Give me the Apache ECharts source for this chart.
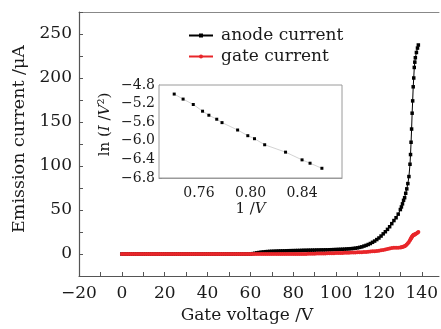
<!DOCTYPE html>
<html><head><meta charset="utf-8">
<script src="https://cdn.jsdelivr.net/npm/echarts@6/dist/echarts.min.js"></script>
<style>html,body{margin:0;padding:0;background:#fff}#c{width:441px;height:329px}</style>
</head><body><div id="c"></div>
<script>
// Main chart: gate voltage (V) vs emission current (uA)
const voltage = [
  0,1,2,3,4,5,6,7,8,9,
  10,11,12,13,14,15,16,17,18,19,
  20,21,22,23,24,25,26,27,28,29,
  30,31,32,33,34,35,36,37,38,39,
  40,41,42,43,44,45,46,47,48,49,
  50,51,52,53,54,55,56,57,58,59,
  60,61,62,63,64,65,66,67,68,69,
  70,71,72,73,74,75,76,77,78,79,
  80,81,82,83,84,85,86,87,88,89,
  90,91,92,93,94,95,96,97,98,99,
  100,101,102,103,104,105,106,107,108,109,
  110,111,112,113,114,115,116,117,118,119,
  120,121,122,123,124,125,126,127,128,129,
  130,130.5,131,131.5,132,132.5,133,133.5,134,134.5,134.75,135,135.25,135.5,135.75,136,136.25,136.5,136.75,137,137.5,138,138.4
];
const anodeCurrent = [
  0,0,0,0,0,0,0,0,0,0,
  0,0,0,0,0,0,0,0,0,0,
  0,0,0,0,0,0,0,0,0,0,
  0,0,0,0,0,0,0,0,0,0,
  0,0,0,0,0,0,0,0,0,0,
  0,0,0,0,0,0,0,0,0,0,
  0,0.4,0.8,1.3,1.7,2.05,2.35,2.6,2.8,2.95,
  3.05,3.15,3.25,3.35,3.45,3.5,3.55,3.65,3.75,3.8,
  3.85,3.9,4.0,4.0,4.1,4.2,4.2,4.3,4.3,4.4,
  4.4,4.5,4.5,4.6,4.6,4.7,4.7,4.8,4.9,5.0,
  5.1,5.2,5.3,5.4,5.5,5.7,5.85,6.05,6.3,6.6,
  7.0,7.55,8.1,9.0,9.8,10.8,11.9,13.3,14.7,16.4,
  18.2,20.4,22.9,25.3,28.0,31.0,34.5,38.0,41.2,45.3,
  50.5,53.5,57,61,64,69,74,80,88,102,113,127,142,160,174,190,200,212,218,223,229,234,237.5
];
const gateCurrent = [
  0,0,0,0,0,0,0,0,0,0,
  0,0,0,0,0,0,0,0,0,0,
  0,0,0,0,0,0,0,0,0,0,
  0,0,0,0,0,0,0,0,0,0,
  0,0,0,0,0,0,0,0,0,0,
  0,0,0,0,0,0,0,0,0,0,
  0,0,0,0,0,0,0,0,0,0,
  0,0,0,0,0,0,0,0,0,0,
  0,0,0,0,0,0,0,0.3,0.3,0.4,
  0.4,0.5,0.6,0.6,0.7,0.7,0.8,0.8,0.9,0.9,
  1.0,1.0,1.1,1.2,1.3,1.4,1.5,1.6,1.7,1.8,
  1.9,2.0,2.1,2.2,2.4,2.6,2.8,3.0,3.2,3.5,
  3.8,4.2,4.6,5.0,5.6,6.2,6.7,7.0,7.2,7.0,
  7.4,7.7,8.0,8.5,8.9,9.8,10.8,12.3,13.7,15.5,16.7,17.8,19.0,20.0,20.8,21.4,21.8,22.0,22.3,22.6,23.3,24.2,25.0
];
const xLabels = [-20,0,20,40,60,80,100,120,140];
const xTicks = [-20,-10,0,10,20,30,40,50,60,70,80,90,100,110,120,130,140];
// Inset: Fowler-Nordheim plot
const insetX = [0.7408,0.7477,0.7556,0.7628,0.7677,0.7738,0.7779,0.7900,0.7979,0.8031,0.8110,0.8272,0.8400,0.8462,0.8554];
const insetY = [-4.995,-5.103,-5.219,-5.363,-5.450,-5.536,-5.609,-5.768,-5.890,-5.955,-6.085,-6.244,-6.410,-6.482,-6.591];
const insetXLabels = [0.76,0.80,0.84];
const insetXTicks = [0.74,0.76,0.78,0.80,0.82,0.84,0.86];
const seriesNames = ['anode current','gate current'];

const FONT = 'DejaVu Serif';
const TXT = '#1a1a1a';
const fmtNum = v => (v < 0 ? '\u2212' + Math.abs(v) : String(v));

const chart = echarts.init(document.getElementById('c'), null, {renderer:'canvas'});
chart.setOption({
  backgroundColor: '#ffffff',
  animation: false,
  legend: {
    left: 183, top: 22, orient: 'vertical', itemGap: 4,
    itemWidth: 24, itemHeight: 5,
    textStyle: {fontFamily: FONT, fontSize: 17, color: TXT, padding:[0,0,0,3]},
    data: seriesNames
  },
  grid: [
    {left: 79, top: 12, right: 1, bottom: 49, containLabel: false},
    {left: 159, top: 85, width: 183, height: 93, show: true, borderColor: '#9a9a9a', borderWidth: 1, backgroundColor: '#fff', z: 5}
  ],
  xAxis: [
    {
      gridIndex: 0, type: 'value', min: -20, max: 148,
      name: 'Gate voltage /V', nameLocation: 'middle', nameGap: 31,
      nameTextStyle: {fontFamily: FONT, fontSize: 17, color: TXT, padding:[0,24,0,0]},
      axisLine: {onZero: false, lineStyle: {color: '#555', width: 1.2}},
      axisTick: {inside: true, length: 4, lineStyle: {color: '#555'}, customValues: xTicks},
      axisLabel: {fontFamily: FONT, fontSize: 17, color: TXT, margin: 9, formatter: fmtNum, customValues: xLabels},
      splitLine: {show: false}
    },
    {
      gridIndex: 0, type: 'value', position: 'top', min: -20, max: 148,
      axisLine: {onZero: false, lineStyle: {color: '#888', width: 1.2}},
      axisTick: {show: false}, axisLabel: {show: false}, splitLine: {show: false}
    },
    {
      gridIndex: 1, type: 'value', min: 0.729, max: 0.871,
      name: '{n|1 /}{i|V}', nameLocation: 'middle', nameGap: 24,
      nameTextStyle: {fontFamily: FONT, fontSize: 15, color: TXT,
        rich: {n: {fontFamily: FONT, fontSize: 15, color: TXT}, i: {fontFamily: FONT, fontSize: 15, color: TXT, fontStyle: 'italic'}}},
      axisLine: {onZero: false, lineStyle: {color: '#9a9a9a'}},
      axisTick: {inside: true, length: 3, lineStyle: {color: '#888'}, customValues: insetXTicks},
      axisLabel: {fontFamily: FONT, fontSize: 14, color: TXT, margin: 8, customValues: insetXLabels, formatter: v => v.toFixed(2)},
      splitLine: {show: false}
    }
  ],
  yAxis: [
    {
      gridIndex: 0, type: 'value', min: -25, max: 275, interval: 25,
      name: 'Emission current /\u03bcA', nameLocation: 'middle', nameGap: 47,
      nameTextStyle: {fontFamily: FONT, fontSize: 17.5, color: TXT, padding:[0,0,0,10]},
      axisLine: {onZero: false, lineStyle: {color: '#555', width: 1.2}},
      axisTick: {inside: true, length: 4, lineStyle: {color: '#555'}},
      axisLabel: {fontFamily: FONT, fontSize: 17, color: TXT, margin: 7,
        formatter: v => (v >= 0 && v % 50 === 0 ? String(v) : '')},
      splitLine: {show: false}
    },
    {
      gridIndex: 1, type: 'value', min: -6.8, max: -4.8, interval: 0.4,
      name: '{n|ln (}{i|I}{n| /}{i|V}{n|\u00b2)}', nameLocation: 'middle', nameGap: 46,
      nameTextStyle: {fontFamily: FONT, fontSize: 15, color: TXT, padding:[0,0,0,14],
        rich: {n: {fontFamily: FONT, fontSize: 15, color: TXT}, i: {fontFamily: FONT, fontSize: 15, color: TXT, fontStyle: 'italic'}}},
      axisLine: {onZero: false, lineStyle: {color: '#9a9a9a'}},
      axisTick: {inside: true, length: 3, lineStyle: {color: '#888'}},
      minorTick: {show: true, splitNumber: 2, length: 2, lineStyle: {color: '#888'}},
      axisLabel: {fontFamily: FONT, fontSize: 14, color: TXT, margin: 4, formatter: v => fmtNum(+v.toFixed(1)).replace(/^(\u2212?\d)$/, '$1.0')},
      splitLine: {show: false}
    }
  ],
  series: [
    {
      name: seriesNames[0], type: 'line', xAxisIndex: 0, yAxisIndex: 0,
      data: voltage.map((v, i) => [v, anodeCurrent[i]]),
      symbol: 'rect', symbolSize: 3.5, showAllSymbol: true,
      itemStyle: {color: '#000'}, lineStyle: {color: '#000', width: 1}, z: 2
    },
    {
      name: seriesNames[1], type: 'line', xAxisIndex: 0, yAxisIndex: 0,
      data: voltage.map((v, i) => [v, gateCurrent[i]]),
      symbol: 'circle', symbolSize: 4, showAllSymbol: true,
      itemStyle: {color: '#e8262a'}, lineStyle: {color: '#e8262a', width: 1}, z: 3
    },
    {
      name: 'FN', type: 'line', xAxisIndex: 2, yAxisIndex: 1,
      data: insetX.map((v, i) => [v, insetY[i]]),
      symbol: 'rect', symbolSize: 3, showAllSymbol: true,
      itemStyle: {color: '#000'}, lineStyle: {color: '#c8c8c8', width: 0.8}, z: 6
    }
  ]
});
</script>
</body></html>
